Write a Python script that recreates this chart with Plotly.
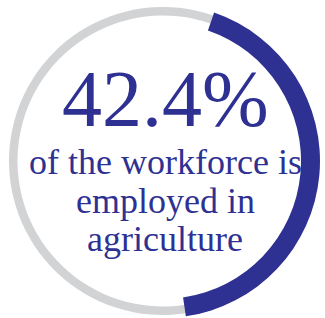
import plotly.graph_objects as go

# Data
labels = ["Employed in agriculture", "Other sectors"]
shares = [42.4, 57.6]
headline = "42.4%"
caption_lines = ["of the workforce is", "employed in", "agriculture"]

BLUE = "#2E3192"
GRAY = "#D1D3D4"
FONT = "Liberation Serif"
W, H = 325, 318
CX, CY = 163, 161  # ring centre, px from top-left


def dom(r):
    return dict(x=[(CX - r) / W, (CX + r) / W],
                y=[max(0, (H - CY - r) / H), min(1, (H - CY + r) / H)])


fig = go.Figure()

# thin gray ring (background track)
fig.add_trace(go.Pie(
    labels=labels, values=shares, sort=False, direction="clockwise",
    rotation=19, hole=145.5 / 154,
    marker=dict(colors=[GRAY, GRAY], line=dict(width=0)),
    textinfo="none", hoverinfo="skip", showlegend=False,
    domain=dom(154),
))

# thick blue arc for the share
fig.add_trace(go.Pie(
    labels=labels, values=shares, sort=False, direction="clockwise",
    rotation=19, hole=138 / 157,
    marker=dict(colors=[BLUE, "rgba(0,0,0,0)"], line=dict(width=0)),
    textinfo="none", hoverinfo="skip", showlegend=False,
    domain=dom(157),
))

fig.add_annotation(
    text=headline, x=0.508, y=1 - 99 / H, xref="paper", yref="paper",
    showarrow=False, xanchor="center", yanchor="middle",
    font=dict(family=FONT, size=80, color=BLUE),
)
ys = [162, 201, 239]
for line, yy in zip(caption_lines, ys):
    fig.add_annotation(
        text=line, x=0.508, y=1 - yy / H, xref="paper", yref="paper",
        showarrow=False, xanchor="center", yanchor="middle",
        font=dict(family=FONT, size=36, color=BLUE),
    )

fig.update_layout(
    width=W, height=H, margin=dict(l=0, r=0, t=0, b=0),
    paper_bgcolor="white", plot_bgcolor="white",
)

fig.write_html("out.html", config={"displayModeBar": False},
               post_script="document.body.style.margin='0';")
